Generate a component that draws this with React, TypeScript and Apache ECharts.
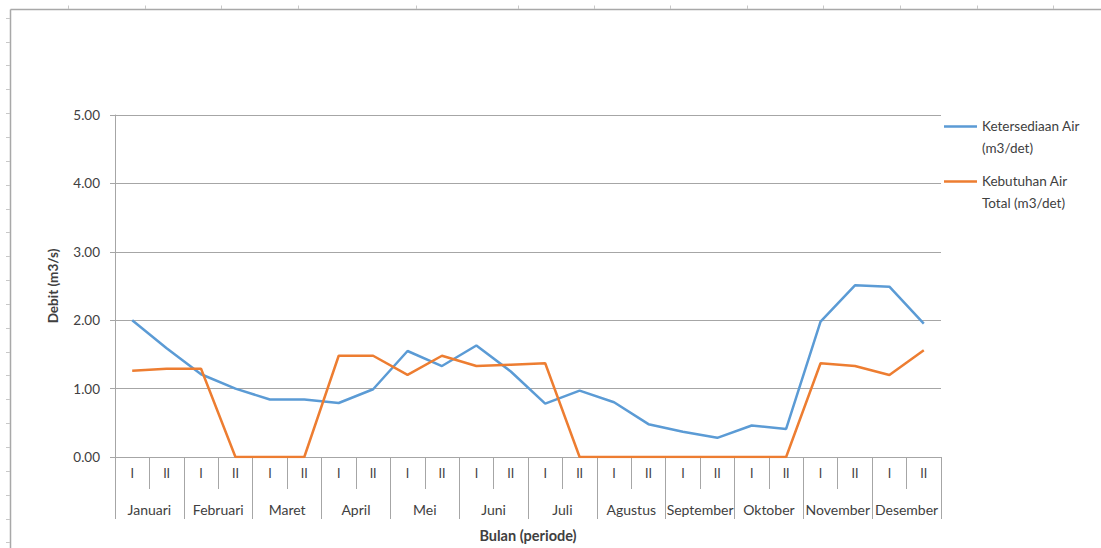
import React, { useEffect, useRef } from "react";
import * as echarts from "echarts";

const periods = ["I","II","I","II","I","II","I","II","I","II","I","II","I","II","I","II","I","II","I","II","I","II","I","II"];
const months = ["Januari","Februari","Maret","April","Mei","Juni","Juli","Agustus","September","Oktober","November","Desember"];
const ketersediaan = [2.00,1.59,1.21,1.00,0.84,0.84,0.79,0.99,1.55,1.33,1.63,1.25,0.78,0.97,0.80,0.48,0.37,0.28,0.46,0.41,1.98,2.51,2.49,1.95];
const kebutuhan = [1.26,1.29,1.29,0,0,0,1.48,1.48,1.20,1.48,1.33,1.35,1.37,0,0,0,0,0,0,0,1.37,1.33,1.20,1.56];
const seriesNames = ["Ketersediaan Air (m3/det)", "Kebutuhan Air Total (m3/det)"];
const legendLines: Record<string, string> = {
  "Ketersediaan Air (m3/det)": "Ketersediaan Air\n(m3/det)",
  "Kebutuhan Air Total (m3/det)": "Kebutuhan Air\nTotal (m3/det)",
};

// decorative spreadsheet frame marks
const topMarks = [68, 145, 221, 298, 416, 518, 594, 670, 747, 823, 900, 977, 1053];
const leftMarkStart = 17.7;
const leftMarkStep = 23.85;
const leftMarkCount = 23;

const FONT = "Lato, 'Noto Sans', sans-serif";
const GRID = "#a6a6a6";
const TEXT = "#404040";

export default function App() {
  const ref = useRef<HTMLDivElement>(null);
  useEffect(() => {
    if (!ref.current) return;
    const chart = echarts.init(ref.current, undefined, { renderer: "svg" });
    const frameColor = "#a8a8a8";
    const graphics: any[] = [
      { type: "line", shape: { x1: 10.5, y1: 9.5, x2: 1101, y2: 9.5 }, style: { stroke: frameColor, lineWidth: 1.5 } },
      { type: "line", shape: { x1: 10.5, y1: 9.5, x2: 10.5, y2: 548 }, style: { stroke: frameColor, lineWidth: 1.5 } },
    ];
    topMarks.forEach((x) => {
      graphics.push({ type: "line", shape: { x1: x + 0.5, y1: 5.5, x2: x + 0.5, y2: 9 }, style: { stroke: "#c8c8c8", lineWidth: 1 } });
    });
    for (let k = 0; k < leftMarkCount; k++) {
      const y = Math.round(leftMarkStart + leftMarkStep * k) + 0.5;
      graphics.push({ type: "line", shape: { x1: 6, y1: y, x2: 10, y2: y }, style: { stroke: "#c8c8c8", lineWidth: 1 } });
    }
    chart.setOption({
      animation: false,
      textStyle: { fontFamily: FONT },
      grid: { left: 115, right: 160, top: 115, bottom: 90, containLabel: false },
      legend: {
        orient: "vertical",
        left: 944,
        top: 115,
        padding: 0,
        itemGap: 11,
        itemWidth: 33,
        itemHeight: 24,
        icon: "path://M0,0 H34 V2.5 H0 Z M0,23.99 H0.01 V24 H0 Z",
        itemStyle: { borderWidth: 0 },
        data: seriesNames,
        formatter: (n: string) => legendLines[n] || n,
        textStyle: { fontFamily: FONT, fontSize: 13.5, color: TEXT, lineHeight: 22 },
      },
      xAxis: [
        {
          type: "category",
          data: periods,
          position: "bottom",
          boundaryGap: true,
          axisLine: { show: true, lineStyle: { color: GRID, width: 1 } },
          axisTick: { show: true, interval: 0, length: 32, lineStyle: { color: GRID } },
          axisLabel: { interval: 0, margin: 10, fontSize: 12.5, color: TEXT, fontFamily: FONT },
          splitLine: { show: false },
        },
        {
          type: "category",
          data: months,
          position: "bottom",
          boundaryGap: true,
          axisLine: { show: false },
          axisTick: { show: true, interval: 0, length: 62, lineStyle: { color: GRID } },
          axisLabel: { interval: 0, margin: 45, fontSize: 14, color: TEXT, fontFamily: FONT },
          splitLine: { show: false },
          name: "Bulan (periode)",
          nameLocation: "middle",
          nameGap: 71,
          nameTextStyle: { fontWeight: "bold", fontSize: 14.5, color: TEXT, fontFamily: FONT },
        },
      ],
      yAxis: {
        type: "value",
        min: 0,
        max: 5,
        interval: 1,
        axisLine: { show: true, lineStyle: { color: GRID } },
        axisTick: { show: true, length: 5, lineStyle: { color: GRID } },
        axisLabel: { margin: 15, fontSize: 13.5, color: TEXT, fontFamily: FONT, formatter: (v: number) => v.toFixed(2) },
        splitLine: { show: true, lineStyle: { color: GRID, width: 1 } },
        name: "Debit (m3/s)",
        nameLocation: "middle",
        nameGap: 55,
        nameTextStyle: { fontWeight: "bold", fontSize: 13.5, color: TEXT, fontFamily: FONT },
      },
      series: [
        {
          name: seriesNames[0],
          type: "line",
          xAxisIndex: 0,
          data: ketersediaan,
          symbol: "none",
          color: "#5b9bd5",
          lineStyle: { width: 2.5, color: "#5b9bd5" },
        },
        {
          name: seriesNames[1],
          type: "line",
          xAxisIndex: 0,
          data: kebutuhan,
          symbol: "none",
          color: "#ed7d31",
          lineStyle: { width: 2.5, color: "#ed7d31" },
        },
      ],
      graphic: graphics,
    });
    return () => chart.dispose();
  }, []);
  return <div ref={ref} style={{ position: "fixed", left: 0, top: 0, width: 1101, height: 548, background: "#fff" }} />;
}
